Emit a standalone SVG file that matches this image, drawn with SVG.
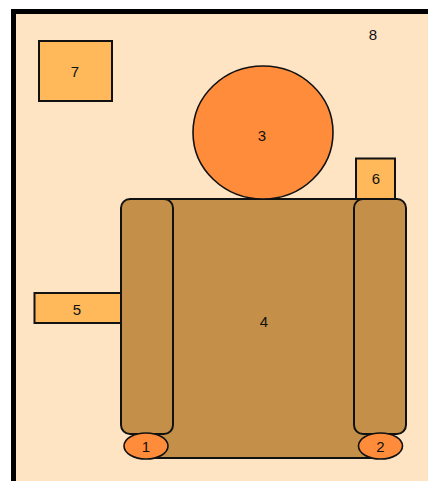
<svg xmlns="http://www.w3.org/2000/svg" width="428" height="481" viewBox="0 0 428 481">
<style>
.lbl{font-family:"Liberation Sans",Arial,sans-serif;font-size:15px;fill:#111;text-anchor:middle;dominant-baseline:central}
.box{fill:#FFB95A;stroke:#111;stroke-width:2}
.brown{fill:#C48F48;stroke:#111;stroke-width:2}
.orange{fill:#FF8C3A;stroke:#111;stroke-width:1.6}
</style>
<rect x="0" y="0" width="428" height="481" fill="#fff"/>
<g id="node8">
<rect x="13.5" y="11.5" width="420" height="475" fill="#FFE4C4" stroke="#000" stroke-width="5"/>
<text class="lbl" x="373" y="34">8</text>
</g>
<g id="connectors"></g>
<g id="node7">
<rect class="box" x="39" y="41" width="73" height="60"/>
<text class="lbl" x="75" y="71">7</text>
</g>
<g id="node5">
<rect class="box" x="34.5" y="293" width="87" height="30"/>
<text class="lbl" x="77" y="309">5</text>
</g>
<g id="node6">
<rect class="box" x="356" y="158.5" width="39" height="45"/>
<text class="lbl" x="376" y="178">6</text>
</g>
<g id="node4">
<rect class="brown" x="147" y="199" width="233" height="259"/>
<rect class="brown" x="121" y="199" width="52" height="235" rx="9"/>
<rect class="brown" x="354" y="199" width="52" height="235" rx="9"/>
<text class="lbl" x="264" y="321">4</text>
</g>
<g id="node3">
<ellipse class="orange" cx="263" cy="132.5" rx="70" ry="66.5"/>
<text class="lbl" x="262" y="135">3</text>
</g>
<g id="node1">
<ellipse class="orange" cx="146" cy="446" rx="22" ry="13"/>
<text class="lbl" x="146" y="446">1</text>
</g>
<g id="node2">
<ellipse class="orange" cx="380.5" cy="446" rx="22" ry="13"/>
<text class="lbl" x="380.5" y="446">2</text>
</g>
</svg>
